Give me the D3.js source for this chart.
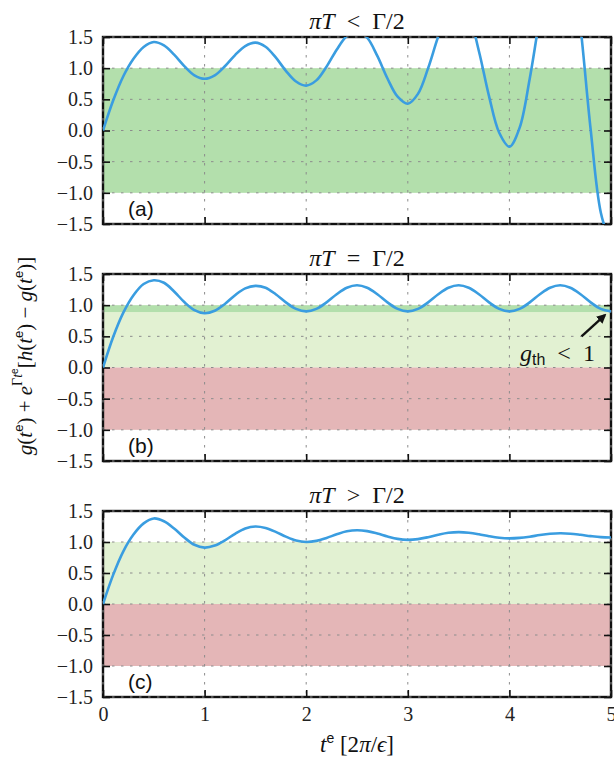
<!DOCTYPE html>
<html><head><meta charset="utf-8">
<script src="https://cdn.jsdelivr.net/npm/d3@7"></script>
<style>body{margin:0;background:#fff}</style>
</head><body>
<svg id="chart" width="614" height="764"></svg>
<script>
const timeValues = [0,0.1,0.2,0.3,0.4,0.5,0.6,0.7,0.8,0.9,1.0,1.1,1.2,1.3,1.4,1.5,1.6,1.7,1.8,1.9,2.0,2.1,2.2,2.3,2.4,2.5,2.6,2.7,2.8,2.9,3.0,3.1,3.2,3.3,3.4,3.5,3.6,3.7,3.8,3.9,4.0,4.1,4.2,4.3,4.4,4.5,4.6,4.7,4.8,4.9,5.0];
const seriesA = [0,0.48,0.87,1.15,1.34,1.42,1.364,1.216,1.034,0.886,0.83,
  0.885,1.03,1.21,1.355,1.41,1.344,1.172,0.958,0.786,0.72,
  0.804,1.024,1.296,1.516,1.6,1.488,1.196,0.834,0.542,0.43,
  0.588,1.0,1.51,1.922,2.08,1.857,1.272,0.548,-0.037,-0.26,
  0.042,0.832,1.808,2.598,2.95,2.95,1.66,0.012,-1.32,-1.83];
const seriesB = [0,0.49,0.88,1.16,1.34,1.40,1.36,1.22,1.05,0.92,0.87,
  0.91,1.02,1.16,1.27,1.31,1.28,1.175,1.045,0.94,0.9,
  0.94,1.045,1.175,1.28,1.32,1.28,1.175,1.045,0.94,0.9,
  0.94,1.045,1.175,1.28,1.32,1.28,1.175,1.045,0.94,0.9,
  0.94,1.045,1.175,1.28,1.32,1.28,1.175,1.045,0.94,0.9];
const seriesC = [0,0.47,0.85,1.12,1.30,1.38,1.335,1.218,1.072,0.955,0.91,
  0.943,1.027,1.133,1.218,1.25,1.226,1.164,1.086,1.024,1.0,
  1.018,1.066,1.124,1.172,1.19,1.175,1.136,1.089,1.05,1.035,
  1.047,1.078,1.117,1.148,1.16,1.15,1.125,1.093,1.068,1.058,
  1.066,1.086,1.112,1.132,1.14,1.134,1.116,1.095,1.078,1.072];
const xTicks = [0,1,2,3,4,5];
const yTicks = [-1.5,-1.0,-0.5,0.0,0.5,1.0,1.5];
const bandsA = [[-1,1,"green"]];
const bandsB = [[0,0.89,"light"],[0.89,1.0,"green"],[-1,0,"red"]];
const bandsC = [[0,1,"light"],[-1,0,"red"]];
const panelLetters = ["(a)","(b)","(c)"];
const titleRelations = ["<","=",">"];

const colors = {green:"#b3dfac", light:"#e2f1d2", red:"#e4b6b7", line:"#3a9de0"};
const svg = d3.select("#chart");
const serif = "'Liberation Serif', 'DejaVu Serif', serif";
const sans = "'Liberation Sans', Arial, sans-serif";
const L = 103, R = 611;
const x = d3.scaleLinear().domain([0,5]).range([L,R]);

const panels = [
  {top:37, bottom:224, data:seriesA, bands:bandsA},
  {top:274, bottom:461, data:seriesB, bands:bandsB},
  {top:511, bottom:697, data:seriesC, bands:bandsC}
];

panels.forEach((p,i)=>{
  const y = d3.scaleLinear().domain([-1.5,1.5]).range([p.bottom,p.top]);
  const g = svg.append("g");
  const cid = "clip"+i;
  svg.append("defs").append("clipPath").attr("id",cid)
    .append("rect").attr("x",L).attr("y",p.top).attr("width",R-L).attr("height",p.bottom-p.top);
  g.selectAll("rect.band").data(p.bands).join("rect")
    .attr("x",L).attr("width",R-L)
    .attr("y",d=>y(d[1])).attr("height",d=>y(d[0])-y(d[1]))
    .attr("fill",d=>colors[d[2]]);
  g.append("rect").attr("x",L).attr("y",p.top).attr("width",R-L).attr("height",p.bottom-p.top)
    .attr("fill","none").attr("stroke","#111").attr("stroke-width",2.4);
  g.selectAll("line.gy").data(yTicks).join("line")
    .attr("x1",L).attr("x2",R).attr("y1",d=>y(d)).attr("y2",d=>y(d))
    .attr("stroke","#8c8c8c").attr("stroke-width",1).attr("stroke-dasharray","2.5,6.5");
  g.selectAll("line.gx").data(xTicks).join("line")
    .attr("y1",p.top).attr("y2",p.bottom).attr("x1",d=>x(d)).attr("x2",d=>x(d))
    .attr("stroke","#8c8c8c").attr("stroke-width",1).attr("stroke-dasharray","2.5,6.5");
  const yAxisL = d3.axisLeft(y).tickValues(yTicks).tickSizeInner(-7).tickSizeOuter(0)
    .tickPadding(10).tickFormat(d=>d3.format(".1f")(d).replace("-","\u2212"));
  const ga = g.append("g").attr("transform",`translate(${L},0)`).call(yAxisL);
  ga.attr("font-family",serif).attr("font-size",20);
  ga.select(".domain").remove();
  ga.selectAll("line").attr("stroke","#111").attr("stroke-width",1.6);
  ga.selectAll("text").attr("font-family",serif).attr("font-size",20).attr("fill","#222");
  const gr = g.append("g").attr("transform",`translate(${R},0)`)
    .call(d3.axisRight(y).tickValues(yTicks).tickSizeInner(-7).tickSizeOuter(0).tickFormat(""));
  gr.select(".domain").remove();
  gr.selectAll("line").attr("stroke","#111").attr("stroke-width",1.6);
  const gt = g.append("g").attr("transform",`translate(0,${p.top})`)
    .call(d3.axisTop(x).tickValues(xTicks).tickSizeInner(-7).tickSizeOuter(0).tickFormat(""));
  gt.select(".domain").remove();
  gt.selectAll("line").attr("stroke","#111").attr("stroke-width",1.6);
  const gb = g.append("g").attr("transform",`translate(0,${p.bottom})`)
    .call(d3.axisBottom(x).tickValues(xTicks).tickSizeInner(-7).tickSizeOuter(0).tickPadding(10)
      .tickFormat(i===2 ? d3.format("d") : ""));
  gb.attr("font-family",serif).attr("font-size",20);
  gb.select(".domain").remove();
  gb.selectAll("line").attr("stroke","#111").attr("stroke-width",1.6);
  gb.selectAll("text").attr("font-family",serif).attr("font-size",20).attr("fill","#222");
  const line = d3.line().x((d,k)=>x(timeValues[k])).y(d=>y(d)).curve(d3.curveCatmullRom.alpha(0.5));
  g.append("path").datum(p.data).attr("d",line).attr("clip-path",`url(#${cid})`)
    .attr("fill","none").attr("stroke",colors.line).attr("stroke-width",2.6);
  const t = g.append("text").attr("x",357).attr("y",p.top-8).attr("text-anchor","middle")
    .attr("font-family",serif).attr("font-size",24).attr("fill","#111");
  t.append("tspan").attr("font-style","italic").text("\u03c0T");
  t.append("tspan").text("\u2002"+titleRelations[i]+"\u2002\u0393/2");
  g.append("text").attr("x",128).attr("y",p.bottom-8).attr("font-family",sans)
    .attr("font-size",21).attr("fill","#111").text(panelLetters[i]);
  if(i===1){
    svg.append("defs").append("marker").attr("id","ah").attr("viewBox","0 0 10 10")
      .attr("refX",8).attr("refY",5).attr("markerWidth",4).attr("markerHeight",4).attr("orient","auto")
      .append("path").attr("d","M0,0 L10,5 L0,10 z").attr("fill","#111");
    g.append("line").attr("x1",x(4.71)).attr("y1",y(0.5)).attr("x2",x(4.94)).attr("y2",y(0.84))
      .attr("stroke","#111").attr("stroke-width",2.4).attr("marker-end","url(#ah)");
    const an = g.append("text").attr("x",520).attr("y",y(0.1)).attr("font-family",serif)
      .attr("font-size",24).attr("fill","#111");
    an.append("tspan").attr("font-style","italic").text("g");
    an.append("tspan").attr("font-family",sans).attr("font-size",16).attr("dy",4).text("th");
    an.append("tspan").attr("dy",-4).text("\u2002<\u20021");
  }
});

const xl = svg.append("text").attr("x",357).attr("y",752).attr("text-anchor","middle")
  .attr("font-family",serif).attr("font-size",23).attr("fill","#111");
xl.append("tspan").attr("font-style","italic").text("t");
xl.append("tspan").attr("font-family",sans).attr("font-size",14).attr("dy",-9).text("e");
xl.append("tspan").attr("dy",9).text(" [2");
xl.append("tspan").attr("font-style","italic").text("\u03c0");
xl.append("tspan").text("/");
xl.append("tspan").attr("font-style","italic").text("\u03f5");
xl.append("tspan").text("]");

const yl = svg.append("text").attr("transform","translate(32,356) rotate(-90)").attr("text-anchor","middle")
  .attr("font-family",serif).attr("font-size",21).attr("fill","#111");
const sup = (txt)=>{ yl.append("tspan").attr("font-family",sans).attr("font-size",13).attr("dy",-9).text(txt); };
const it = (txt)=>yl.append("tspan").attr("font-style","italic").text(txt);
const rm = (txt,dy)=>yl.append("tspan").attr("dy",dy||0).text(txt);
it("g"); rm("("); it("t"); sup("e"); rm(") + ",9);
it("e"); yl.append("tspan").attr("font-size",14).attr("dy",-10).text("\u0393");
yl.append("tspan").attr("font-size",14).attr("font-style","italic").text("t");
yl.append("tspan").attr("font-family",sans).attr("font-size",10).attr("dy",-4).text("e");
rm("[",14); it("h"); rm("("); it("t"); sup("e"); rm(") \u2212 ",9); it("g"); rm("("); it("t"); sup("e"); rm(")]",9);
</script>
</body></html>
